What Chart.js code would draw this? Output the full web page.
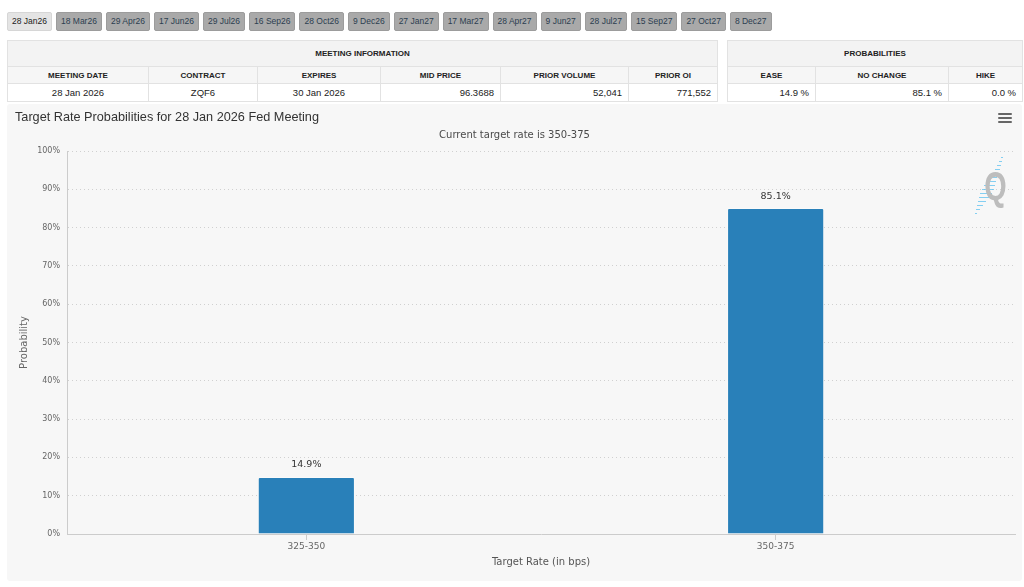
<!DOCTYPE html>
<html><head><meta charset="utf-8">
<script src="https://cdn.jsdelivr.net/npm/chart.js@4.4.1/dist/chart.umd.min.js"></script>
<style>
html,body{margin:0;padding:0;background:#fff;width:1024px;height:587px;overflow:hidden;font-family:"Liberation Sans",Arial,sans-serif;}
#tabs{position:absolute;left:7px;top:12px;white-space:nowrap;font-size:0;}
.tab{display:inline-block;box-sizing:border-box;height:19px;line-height:17px;padding:0 4px;margin-right:4px;background:#a9a9a9;border:1px solid #9c9c9c;border-radius:2px;font-size:8.5px;color:#2c3e50;vertical-align:top;}
.tab.active{background:#e4e4e4;border-color:#d6d6d6;color:#222;}
table{position:absolute;border-collapse:collapse;table-layout:fixed;}
td{border:1px solid #e2e2e2;padding:0 6px;font-size:9.5px;color:#222;white-space:nowrap;overflow:hidden;box-sizing:border-box;}
tr.h1 td{height:26px;background:#f3f3f3;font-weight:bold;font-size:8px;text-align:center;}
tr.h2 td{height:17px;background:#f6f6f6;font-weight:bold;font-size:8px;text-align:center;}
tr.v td{height:18px;background:#fff;}
td.c{text-align:center;} td.r{text-align:right;}
#box{position:absolute;left:7px;top:104px;width:1015px;height:477px;background:#f7f7f7;border-radius:3px;}
#title{position:absolute;left:8px;top:6px;font-size:12.7px;line-height:15px;color:#333;font-family:"Liberation Sans",Arial,sans-serif;white-space:nowrap;}
#subtitle{position:absolute;left:0;width:1015px;top:25px;text-align:center;font-size:10px;line-height:12px;color:#4a4a4a;font-family:"DejaVu Sans",sans-serif;}
#menu{position:absolute;left:991px;top:9px;width:14px;height:12px;}
#menu div{height:2px;background:#666;margin-bottom:2px;border-radius:1px;}
#wm{position:absolute;left:955px;top:50px;}
canvas{position:absolute;left:0;top:0;}
</style>
</head>
<body>
<div id="tabs"></div>
<table id="mi" style="left:7px;top:40px;width:710px;">
<colgroup><col style="width:141px"><col style="width:109px"><col style="width:123px"><col style="width:120px"><col style="width:128px"><col style="width:89px"></colgroup>
<tr class="h1"><td colspan="6">MEETING INFORMATION</td></tr>
<tr class="h2"><td>MEETING DATE</td><td>CONTRACT</td><td>EXPIRES</td><td>MID PRICE</td><td>PRIOR VOLUME</td><td>PRIOR OI</td></tr>
<tr class="v"><td class="c">28 Jan 2026</td><td class="c">ZQF6</td><td class="c">30 Jan 2026</td><td class="r">96.3688</td><td class="r">52,041</td><td class="r">771,552</td></tr>
</table>
<table id="pr" style="left:727px;top:40px;width:295px;">
<colgroup><col style="width:88px"><col style="width:133px"><col style="width:74px"></colgroup>
<tr class="h1"><td colspan="3">PROBABILITIES</td></tr>
<tr class="h2"><td>EASE</td><td>NO CHANGE</td><td>HIKE</td></tr>
<tr class="v"><td class="r">14.9 %</td><td class="r">85.1 %</td><td class="r">0.0 %</td></tr>
</table>
<div id="box">
<canvas id="c" width="1015" height="477"></canvas>
<div id="title">Target Rate Probabilities for 28 Jan 2026 Fed Meeting</div>
<div id="subtitle">Current target rate is 350-375</div>
<div id="menu"><div></div><div></div><div></div></div>
<svg id="wm" width="60" height="66" viewBox="0 0 60 66">
<g stroke="#5cc2f0" stroke-width="1" opacity="0.75">
<line x1="39" y1="3.5" x2="41" y2="3.5"/><line x1="37" y1="7.5" x2="40" y2="7.5"/><line x1="35" y1="11.5" x2="39" y2="11.5"/>
<line x1="33" y1="15.5" x2="38" y2="15.5"/><line x1="30" y1="19.5" x2="36" y2="19.5"/><line x1="28" y1="23.5" x2="35" y2="23.5"/>
<line x1="25" y1="27.5" x2="34" y2="27.5"/><line x1="22" y1="31.5" x2="33" y2="31.5"/><line x1="20" y1="35.5" x2="32" y2="35.5"/>
<line x1="18" y1="39.5" x2="30" y2="39.5"/><line x1="17" y1="43.5" x2="27" y2="43.5"/><line x1="16" y1="47.5" x2="24" y2="47.5"/>
<line x1="15" y1="51.5" x2="21" y2="51.5"/><line x1="14" y1="55.5" x2="18" y2="55.5"/><line x1="13" y1="59.5" x2="15" y2="59.5"/>
</g>
<text x="33.5" y="46" text-anchor="middle" font-family="Liberation Sans, Arial, sans-serif" font-weight="bold" font-size="40" fill="#bdbdbd" transform="translate(33.5 0) scale(0.72 1) translate(-33.5 0)">Q</text>
</svg>
</div>
<script>
const meetingTabs = ['28 Jan26','18 Mar26','29 Apr26','17 Jun26','29 Jul26','16 Sep26','28 Oct26','9 Dec26','27 Jan27','17 Mar27','28 Apr27','9 Jun27','28 Jul27','15 Sep27','27 Oct27','8 Dec27'];
const categories = ['325-350','350-375'];
const probabilities = [14.9, 85.1];
const yTickValues = [0,10,20,30,40,50,60,70,80,90,100];

const tabs = document.getElementById('tabs');
meetingTabs.forEach((t,i)=>{const d=document.createElement('div');d.className='tab'+(i===0?' active':'');d.textContent=t;tabs.appendChild(d);});

Chart.defaults.font.family = '"DejaVu Sans", sans-serif';

const valueLabels = {
  id:'valueLabels',
  afterDatasetsDraw(chart){
    const ctx = chart.ctx;
    const meta = chart.getDatasetMeta(0);
    ctx.save();
    ctx.font = '9.5px "DejaVu Sans", sans-serif';
    ctx.fillStyle = '#333';
    ctx.textAlign = 'center';
    ctx.textBaseline = 'middle';
    meta.data.forEach((bar,i)=>{
      ctx.fillText(probabilities[i].toFixed(1)+'%', bar.x, bar.y-12);
    });
    ctx.restore();
  }
};

new Chart(document.getElementById('c'), {
  type:'bar',
  data:{
    datasets:[{
      data:probabilities.map((p,i)=>({x:i,y:p})),
      backgroundColor:'#2980b9',
      borderColor:'rgba(255,255,255,0.35)',
      borderWidth:1,
      borderSkipped:'bottom',
      borderRadius:{topLeft:2,topRight:2,bottomLeft:0,bottomRight:0},
      barPercentage:0.207,
      categoryPercentage:1
    }]
  },
  options:{
    responsive:false,
    animation:false,
    layout:{padding:{left:0,right:7,top:47,bottom:0}},
    plugins:{legend:{display:false},tooltip:{enabled:false}},
    scales:{
      x:{
        type:'linear',
        min:-0.51,max:categories.length-1+0.51,
        offset:false,
        afterBuildTicks(s){s.ticks = categories.map((c,i)=>({value:i}));},
        grid:{display:true,drawOnChartArea:false,drawTicks:true,tickLength:6,offset:false,color:'#cccccc'},
        border:{display:true,color:'#cccccc'},
        ticks:{font:{size:9},color:'#666',padding:1,callback:(v)=>categories[v]},
        title:{display:true,text:'Target Rate (in bps)',font:{size:10},color:'#555',padding:{top:0,bottom:13}},
        afterFit(s){s.height=47;}
      },
      y:{
        min:0,max:100,
        afterBuildTicks(s){s.ticks = yTickValues.map(v=>({value:v}));},
        ticks:{callback:v=>v+'%',font:{size:8},color:'#666',padding:7},
        grid:{color:'#d0d0d0',drawTicks:false},
        border:{display:true,color:'#cccccc',dash:[1,3]},
        title:{display:true,text:'Probability',font:{size:10},color:'#666',padding:{top:11,bottom:0}},
        afterFit(s){s.width=60;}
      }
    }
  },
  plugins:[valueLabels]
});
</script>
</body></html>
